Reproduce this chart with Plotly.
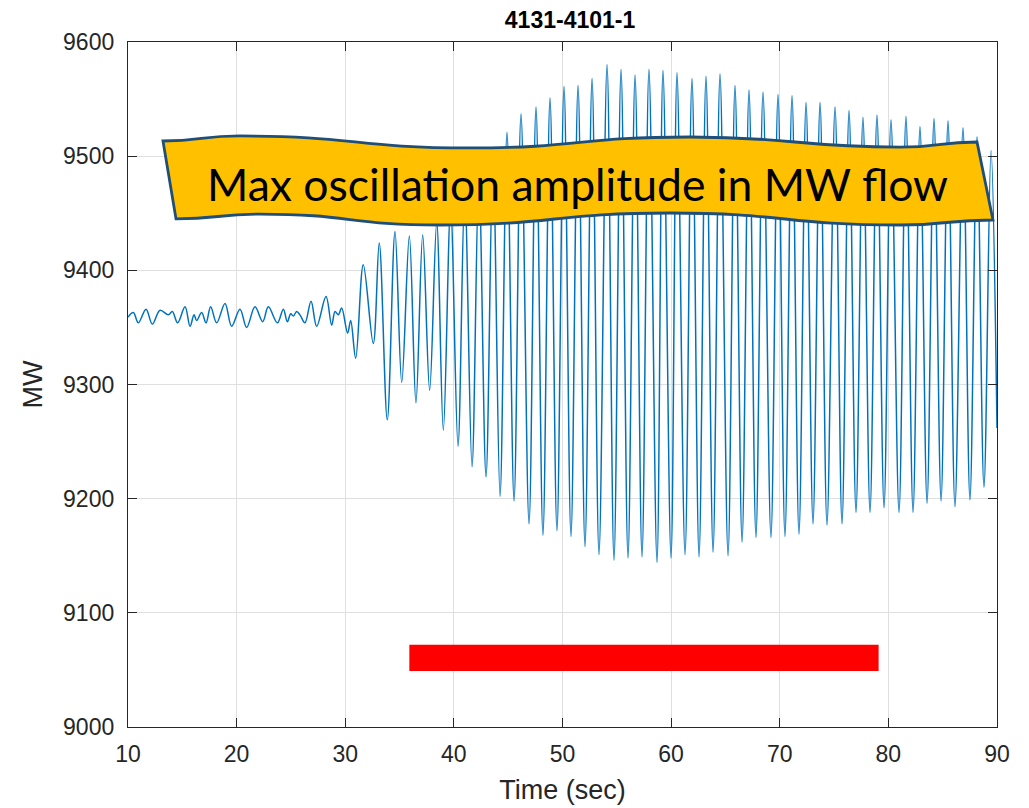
import plotly.graph_objects as go

# ---- data: turning points of the MW flow trace (time in s, MW) ----
time_s = [10.0, 10.49, 10.95, 11.66, 12.24, 12.95, 13.71, 14.08, 14.57, 15.25, 15.71, 16.08, 16.32,
          16.78, 17.18, 17.61, 18.16, 18.93, 19.54, 20.31, 20.92, 21.69, 22.40, 22.92, 23.75,
          24.30, 24.67, 24.98, 25.22, 25.53, 25.83, 26.29, 26.85, 27.37, 28.23, 28.75, 29.06,
          29.36, 29.67, 30.22, 30.50, 30.96, 31.66, 32.58, 33.13, 33.87, 34.58, 35.20, 35.90,
          36.51, 37.13, 37.77, 38.42, 39.03, 39.70, 40.38, 41.00, 41.67, 42.30, 42.96, 43.60,
          44.25, 44.89, 45.54, 46.18, 46.92, 47.56, 48.20, 48.85, 49.49, 50.14, 50.78, 51.43,
          52.07, 52.72, 53.36, 54.10, 54.74, 55.39, 56.03, 56.68, 57.32, 57.96, 58.70, 59.25,
          59.99, 60.54, 61.28, 61.92, 62.57, 63.21, 63.86, 64.50, 65.24, 65.88, 66.53, 67.17,
          67.81, 68.46, 69.19, 69.84, 70.48, 71.13, 71.77, 72.42, 73.06, 73.71, 74.35, 75.09,
          75.73, 76.38, 77.02, 77.66, 78.31, 78.95, 79.60, 80.24, 80.98, 81.62, 82.27, 82.91,
          83.56, 84.20, 84.85, 85.49, 86.13, 86.87, 87.51, 88.16, 88.80, 89.45, 90.0]
mw = [9359, 9363, 9354, 9366, 9353, 9365, 9361, 9364, 9354, 9368, 9351, 9361, 9356,
      9363, 9354, 9368, 9354, 9371, 9351, 9366, 9350, 9368, 9355, 9368, 9354,
      9366, 9355, 9362, 9360, 9364, 9361, 9354, 9373, 9351, 9377, 9352, 9364,
      9361, 9367, 9345, 9356, 9323, 9405, 9336, 9424, 9269, 9434, 9302, 9430,
      9284, 9431, 9295, 9442, 9260, 9455, 9246, 9468, 9228, 9482, 9219, 9497,
      9202, 9521, 9198, 9537, 9178, 9543, 9168, 9551, 9172, 9561, 9167, 9562,
      9158, 9568, 9151, 9580, 9146, 9576, 9148, 9571, 9149, 9576, 9144, 9575,
      9148, 9573, 9151, 9568, 9149, 9570, 9153, 9572, 9150, 9562, 9162, 9558,
      9166, 9556, 9166, 9554, 9167, 9553, 9169, 9547, 9178, 9547, 9177, 9543,
      9178, 9540, 9188, 9534, 9188, 9536, 9192, 9532, 9188, 9535, 9188, 9526,
      9196, 9533, 9198, 9531, 9193, 9525, 9199, 9517, 9210, 9505, 9262]

x_ticks = [10, 20, 30, 40, 50, 60, 70, 80, 90]
y_ticks = [9000, 9100, 9200, 9300, 9400, 9500, 9600]

title_text = "4131-4101-1"
x_label = "Time (sec)"
y_label = "MW"
banner_text = "Max oscillation amplitude in MW flow"

# red highlight bar (time window, MW band)
bar_time = [35.9, 79.1]
bar_mw = [9049, 9072]

# banner outline (time, MW) – top edge left->right, bottom edge right->left
banner_top = [(13.22, 9513.3), (20.3, 9517.7), (41.5, 9507.2), (61.7, 9516.8), (81.1, 9508.0), (88.16, 9512.4)]
banner_bottom = [(89.63, 9444.1), (81.07, 9439.7), (59.9, 9450.2), (38.7, 9439.7), (22.15, 9449.3), (14.42, 9445.0)]


def wave_path(points, start=True):
    s = ""
    if start:
        s += f"M {points[0][0]},{points[0][1]} "
    else:
        s += f"L {points[0][0]},{points[0][1]} "
    for (x0, y0), (x1, y1) in zip(points[:-1], points[1:]):
        dx = (x1 - x0) / 2.0
        s += f"C {x0 + dx},{y0} {x1 - dx},{y1} {x1},{y1} "
    return s


banner_path = wave_path(banner_top) + wave_path(banner_bottom, start=False) + "Z"

fig = go.Figure()
fig.add_trace(go.Scatter(
    x=time_s, y=mw, mode="lines",
    line=dict(color="#0072BD", width=1.5, shape="spline", smoothing=1.0),
    showlegend=False, hoverinfo="skip"))

fig.add_shape(type="rect", xref="x", yref="y",
              x0=bar_time[0], x1=bar_time[1], y0=bar_mw[0], y1=bar_mw[1],
              fillcolor="#FF0000", line=dict(width=0), layer="above")

fig.add_shape(type="path", xref="x", yref="y", path=banner_path,
              fillcolor="#FFC000", line=dict(color="#1F4E79", width=2.8), layer="above")

fig.add_annotation(x=51.4, y=9476, xref="x", yref="y", text=banner_text, showarrow=False,
                   font=dict(family="Lato", size=44.5, color="#000000"))

axis_common = dict(
    showline=True, linecolor="#262626", linewidth=1.3, mirror="ticks",
    ticks="inside", ticklen=9, tickwidth=1.3, tickcolor="#262626",
    showgrid=True, gridcolor="#DFDFDF", gridwidth=1, zeroline=False,
    automargin=False,
    tickfont=dict(family="Liberation Sans", size=23, color="#262626"),
)

fig.update_layout(
    width=1029, height=808,
    margin=dict(l=128, r=32, t=42, b=81),
    paper_bgcolor="white", plot_bgcolor="white",
    title=dict(text=f"<b>{title_text}</b>", x=0.554, xanchor="center", y=0.975, yanchor="middle",
               font=dict(family="Liberation Sans Narrow, Liberation Sans", size=23, color="#000000")),
    xaxis=dict(range=[10, 90], tickvals=x_ticks, ticktext=[str(v) for v in x_ticks],
               title=dict(text=x_label, standoff=14, font=dict(family="Liberation Sans", size=27, color="#262626")),
               ticklabelstandoff=6, **axis_common),
    yaxis=dict(range=[9000, 9600], tickvals=y_ticks, ticktext=[str(v) for v in y_ticks],
               title=dict(text=y_label, standoff=12, font=dict(family="Liberation Sans", size=27, color="#262626")),
               ticklabelstandoff=8, **axis_common),
)

fig.write_html("out.html")
